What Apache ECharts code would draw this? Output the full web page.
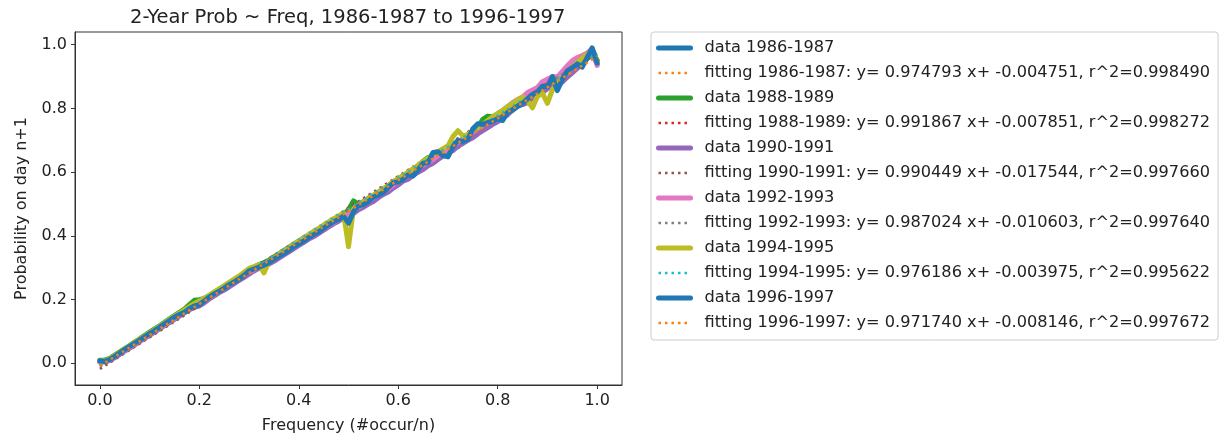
<!DOCTYPE html>
<html>
<head>
<meta charset="utf-8">
<title>2-Year Prob ~ Freq</title>
<script src="https://cdn.jsdelivr.net/npm/echarts@6/dist/echarts.min.js"></script>
<style>
  html, body { margin: 0; padding: 0; background: #fff; }
  #chart { width: 1222px; height: 439px; }
</style>
</head>
<body>
<div id="chart"></div>
<script>
// frequency (#occur/n), shared by every data series
const freq = [
  0.00, 0.01, 0.02, 0.03, 0.04, 0.05, 0.06, 0.07, 0.08, 0.09,
  0.10, 0.11, 0.12, 0.13, 0.14, 0.15, 0.16, 0.17, 0.18, 0.19,
  0.20, 0.21, 0.22, 0.23, 0.24, 0.25, 0.26, 0.27, 0.28, 0.29,
  0.30, 0.31, 0.32, 0.33, 0.34, 0.35, 0.36, 0.37, 0.38, 0.39,
  0.40, 0.41, 0.42, 0.43, 0.44, 0.45, 0.46, 0.47, 0.48, 0.49,
  0.50, 0.51, 0.52, 0.53, 0.54, 0.55, 0.56, 0.57, 0.58, 0.59,
  0.60, 0.61, 0.62, 0.63, 0.64, 0.65, 0.66, 0.67, 0.68, 0.69,
  0.70, 0.71, 0.72, 0.73, 0.74, 0.75, 0.76, 0.77, 0.78, 0.79,
  0.80, 0.81, 0.82, 0.83, 0.84, 0.85, 0.86, 0.87, 0.88, 0.89,
  0.90, 0.91, 0.92, 0.93, 0.94, 0.95, 0.96, 0.97, 0.98, 0.99,
  1.00
];

// probability on day n+1, one list per 2-year window
const prob8687 = [
  0.006, 0.008, 0.014, 0.024, 0.033, 0.044, 0.054, 0.064, 0.074, 0.085,
  0.095, 0.104, 0.115, 0.126, 0.136, 0.146, 0.156, 0.164, 0.174, 0.183,
  0.190, 0.198, 0.209, 0.219, 0.228, 0.239, 0.249, 0.258, 0.268, 0.279,
  0.288, 0.298, 0.306, 0.312, 0.320, 0.330, 0.340, 0.349, 0.358, 0.368,
  0.378, 0.388, 0.398, 0.407, 0.416, 0.428, 0.438, 0.447, 0.456, 0.466,
  0.470, 0.480, 0.486, 0.502, 0.514, 0.516, 0.532, 0.546, 0.548, 0.560,
  0.580, 0.586, 0.594, 0.606, 0.604, 0.618, 0.636, 0.640, 0.646, 0.668,
  0.674, 0.678, 0.680, 0.702, 0.714, 0.712, 0.730, 0.744, 0.744, 0.762,
  0.776, 0.776, 0.784, 0.800, 0.812, 0.816, 0.830, 0.838, 0.842, 0.866,
  0.866, 0.886, 0.878, 0.884, 0.900, 0.924, 0.930, 0.948, 0.968, 0.976,
  0.952
];
const prob8889 = [
  0.010, 0.010, 0.016, 0.026, 0.036, 0.046, 0.056, 0.067, 0.077, 0.088,
  0.098, 0.108, 0.118, 0.129, 0.140, 0.150, 0.160, 0.170, 0.184, 0.198,
  0.200, 0.204, 0.212, 0.222, 0.232, 0.242, 0.252, 0.262, 0.272, 0.282,
  0.294, 0.302, 0.310, 0.316, 0.324, 0.334, 0.344, 0.354, 0.364, 0.374,
  0.384, 0.394, 0.402, 0.412, 0.420, 0.430, 0.440, 0.448, 0.458, 0.468,
  0.482, 0.510, 0.498, 0.508, 0.518, 0.526, 0.536, 0.548, 0.556, 0.570,
  0.580, 0.588, 0.598, 0.610, 0.620, 0.634, 0.646, 0.648, 0.654, 0.668,
  0.676, 0.688, 0.696, 0.704, 0.716, 0.730, 0.740, 0.766, 0.776, 0.774,
  0.782, 0.790, 0.798, 0.808, 0.820, 0.828, 0.836, 0.846, 0.858, 0.868,
  0.880, 0.892, 0.886, 0.898, 0.914, 0.930, 0.942, 0.954, 0.970, 0.984,
  0.950
];
const prob9091 = [
  0.004, 0.004, 0.009, 0.018, 0.028, 0.038, 0.048, 0.058, 0.068, 0.078,
  0.088, 0.098, 0.108, 0.118, 0.128, 0.138, 0.148, 0.158, 0.168, 0.176,
  0.180, 0.190, 0.202, 0.212, 0.222, 0.230, 0.240, 0.250, 0.260, 0.270,
  0.280, 0.290, 0.298, 0.304, 0.312, 0.320, 0.330, 0.340, 0.350, 0.360,
  0.370, 0.380, 0.390, 0.398, 0.408, 0.418, 0.428, 0.438, 0.446, 0.456,
  0.456, 0.470, 0.482, 0.490, 0.500, 0.508, 0.520, 0.530, 0.538, 0.550,
  0.560, 0.572, 0.578, 0.590, 0.600, 0.608, 0.620, 0.628, 0.640, 0.650,
  0.660, 0.668, 0.682, 0.690, 0.700, 0.708, 0.720, 0.730, 0.740, 0.750,
  0.758, 0.770, 0.780, 0.796, 0.808, 0.812, 0.818, 0.834, 0.846, 0.850,
  0.862, 0.874, 0.866, 0.884, 0.898, 0.912, 0.926, 0.940, 0.956, 0.972,
  0.940
];
const prob9293 = [
  0.006, 0.007, 0.012, 0.021, 0.031, 0.041, 0.051, 0.061, 0.071, 0.081,
  0.091, 0.101, 0.111, 0.121, 0.131, 0.142, 0.152, 0.162, 0.172, 0.182,
  0.188, 0.196, 0.206, 0.216, 0.226, 0.236, 0.246, 0.256, 0.266, 0.276,
  0.286, 0.294, 0.302, 0.310, 0.318, 0.328, 0.338, 0.346, 0.356, 0.366,
  0.376, 0.386, 0.396, 0.404, 0.414, 0.424, 0.434, 0.442, 0.452, 0.462,
  0.468, 0.480, 0.490, 0.500, 0.510, 0.520, 0.530, 0.538, 0.548, 0.560,
  0.570, 0.580, 0.590, 0.602, 0.612, 0.622, 0.632, 0.640, 0.652, 0.662,
  0.672, 0.684, 0.694, 0.704, 0.716, 0.726, 0.738, 0.748, 0.760, 0.772,
  0.784, 0.794, 0.806, 0.818, 0.828, 0.836, 0.850, 0.858, 0.866, 0.884,
  0.892, 0.900, 0.898, 0.916, 0.934, 0.950, 0.960, 0.966, 0.974, 0.988,
  0.935
];
const prob9495 = [
  0.008, 0.008, 0.014, 0.024, 0.034, 0.045, 0.055, 0.065, 0.076, 0.086,
  0.096, 0.106, 0.116, 0.127, 0.138, 0.148, 0.158, 0.168, 0.178, 0.188,
  0.196, 0.204, 0.214, 0.224, 0.234, 0.244, 0.254, 0.264, 0.274, 0.286,
  0.298, 0.304, 0.310, 0.284, 0.318, 0.330, 0.342, 0.352, 0.362, 0.374,
  0.384, 0.394, 0.404, 0.414, 0.424, 0.434, 0.444, 0.454, 0.462, 0.472,
  0.366, 0.484, 0.496, 0.506, 0.516, 0.528, 0.538, 0.548, 0.558, 0.570,
  0.580, 0.590, 0.600, 0.610, 0.622, 0.634, 0.644, 0.656, 0.664, 0.674,
  0.682, 0.712, 0.730, 0.714, 0.718, 0.730, 0.740, 0.750, 0.762, 0.774,
  0.784, 0.794, 0.806, 0.816, 0.826, 0.836, 0.824, 0.802, 0.838, 0.848,
  0.816, 0.858, 0.880, 0.896, 0.912, 0.930, 0.944, 0.958, 0.970, 0.984,
  0.950
];
const prob9697 = [
  0.008, 0.006, 0.012, 0.022, 0.032, 0.043, 0.053, 0.063, 0.073, 0.083,
  0.093, 0.103, 0.113, 0.124, 0.134, 0.145, 0.153, 0.160, 0.172, 0.180,
  0.184, 0.196, 0.208, 0.218, 0.226, 0.236, 0.247, 0.255, 0.265, 0.276,
  0.290, 0.296, 0.302, 0.308, 0.316, 0.327, 0.336, 0.344, 0.355, 0.366,
  0.375, 0.384, 0.395, 0.404, 0.412, 0.424, 0.435, 0.444, 0.452, 0.462,
  0.440, 0.476, 0.494, 0.498, 0.508, 0.522, 0.528, 0.536, 0.552, 0.566,
  0.570, 0.578, 0.592, 0.588, 0.608, 0.628, 0.630, 0.662, 0.664, 0.652,
  0.648, 0.680, 0.700, 0.696, 0.704, 0.736, 0.752, 0.750, 0.756, 0.760,
  0.768, 0.762, 0.788, 0.794, 0.806, 0.816, 0.830, 0.844, 0.852, 0.870,
  0.868, 0.900, 0.856, 0.892, 0.918, 0.928, 0.940, 0.930, 0.960, 0.990,
  0.942
];

// fitted lines, value at freq 0 and at freq 1
const fitX = [0, 1];
const fit8687 = [-0.004751, 0.970042];
const fit8889 = [-0.007851, 0.984016];
const fit9091 = [-0.017544, 0.972905];
const fit9293 = [-0.010603, 0.976421];
const fit9495 = [-0.003975, 0.972211];
const fit9697 = [-0.008146, 0.963594];

const tickValues = [0, 0.2, 0.4, 0.6, 0.8, 1.0];

const groups = [
  { years: "1986-1987", data: prob8687, fit: fit8687, eq: "y= 0.974793 x+ -0.004751, r^2=0.998490", color: "#1f77b4", fitColor: "#ff7f0e" },
  { years: "1988-1989", data: prob8889, fit: fit8889, eq: "y= 0.991867 x+ -0.007851, r^2=0.998272", color: "#2ca02c", fitColor: "#d62728" },
  { years: "1990-1991", data: prob9091, fit: fit9091, eq: "y= 0.990449 x+ -0.017544, r^2=0.997660", color: "#9467bd", fitColor: "#8c564b" },
  { years: "1992-1993", data: prob9293, fit: fit9293, eq: "y= 0.987024 x+ -0.010603, r^2=0.997640", color: "#e377c2", fitColor: "#7f7f7f" },
  { years: "1994-1995", data: prob9495, fit: fit9495, eq: "y= 0.976186 x+ -0.003975, r^2=0.995622", color: "#bcbd22", fitColor: "#17becf" },
  { years: "1996-1997", data: prob9697, fit: fit9697, eq: "y= 0.971740 x+ -0.008146, r^2=0.997672", color: "#1f77b4", fitColor: "#ff7f0e" }
];

const zip = (xs, ys) => xs.map((x, i) => [x, ys[i]]);

const series = [];
const legendNames = [];
groups.forEach(g => {
  const dataName = "data " + g.years;
  const fitName = "fitting " + g.years + ": " + g.eq;
  legendNames.push(dataName, fitName);
  series.push({
    name: dataName,
    type: "line",
    data: zip(freq, g.data),
    symbol: "none",
    showSymbol: false,
    color: g.color,
    lineStyle: { width: 5, color: g.color, join: "round", cap: "round" }
  });
  series.push({
    name: fitName,
    type: "line",
    data: zip(fitX, g.fit),
    symbol: "none",
    showSymbol: false,
    color: g.fitColor,
    lineStyle: { width: 2.5, color: g.fitColor, type: [2.5, 4] }
  });
});

const textColor = "#222";
const font = "DejaVu Sans";

const option = {
  animation: false,
  backgroundColor: "#fff",
  textStyle: { fontFamily: font },
  title: {
    text: "2-Year Prob ~ Freq, 1986-1987 to 1996-1997",
    left: 125,
    top: 3,
    textStyle: { fontFamily: font, fontSize: 19.5, fontWeight: "normal", color: textColor }
  },
  legend: {
    orient: "vertical",
    left: 651,
    top: 32,
    data: legendNames,
    selectedMode: false,
    itemWidth: 32,
    itemHeight: 14,
    itemGap: 9,
    padding: [8, 8, 9, 5],
    borderColor: "#ccc",
    borderWidth: 1,
    borderRadius: 3,
    itemStyle: { opacity: 0 },
    lineStyle: { width: "inherit" },
    textStyle: { fontFamily: font, fontSize: 16.2, color: textColor, padding: [0, 0, 0, 9] }
  },
  grid: {
    left: 75,
    right: 600,
    top: 32,
    bottom: 53,
    show: true,
    borderColor: "#333",
    borderWidth: 1
  },
  xAxis: {
    type: "value",
    min: -0.05,
    max: 1.05,
    name: "Frequency (#occur/n)",
    nameLocation: "middle",
    nameGap: 33,
    nameTextStyle: { fontFamily: font, fontSize: 16, color: textColor },
    axisLine: { show: true, onZero: false, lineStyle: { color: "#333" } },
    axisTick: { show: true, length: 4, customValues: tickValues, lineStyle: { color: "#333" } },
    axisLabel: { customValues: tickValues, formatter: v => v.toFixed(1), fontSize: 16, color: textColor, margin: 8 },
    splitLine: { show: false }
  },
  yAxis: {
    type: "value",
    min: -0.068,
    max: 1.04,
    name: "Probability on day n+1",
    nameLocation: "middle",
    nameGap: 45,
    nameTextStyle: { fontFamily: font, fontSize: 16, color: textColor },
    axisLine: { show: true, onZero: false, lineStyle: { color: "#333" } },
    axisTick: { show: true, length: 4, customValues: tickValues, lineStyle: { color: "#333" } },
    axisLabel: { customValues: tickValues, formatter: v => v.toFixed(1), fontSize: 16, color: textColor, margin: 8 },
    splitLine: { show: false }
  },
  series: series
};

echarts.init(document.getElementById("chart"), null, { renderer: "canvas" }).setOption(option);
</script>
</body>
</html>
